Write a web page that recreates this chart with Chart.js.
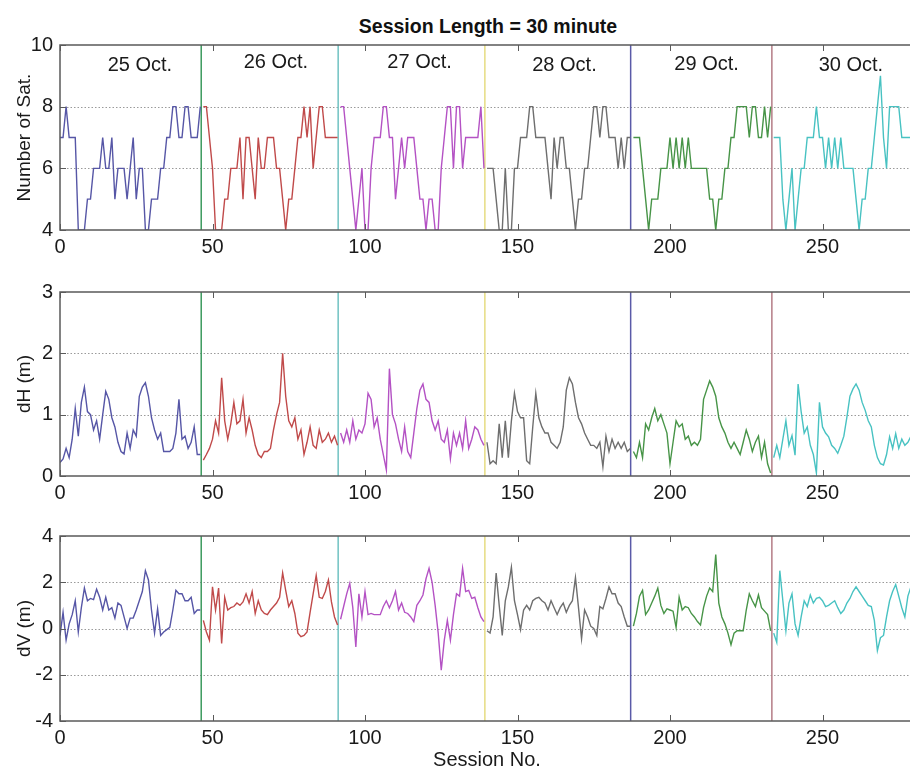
<!DOCTYPE html>
<html>
<head>
<meta charset="UTF-8">
<title>Session Length = 30 minute</title>
<script src="https://cdn.jsdelivr.net/npm/chart.js"></script>
<style>
  html, body { margin: 0; padding: 0; background: #fff; overflow: hidden; }
  #wrap { position: relative; width: 910px; height: 772px; overflow: hidden; }
  #wrap canvas { position: absolute; left: 0; }
  #title {
    position: absolute; left: 238px; top: 15px; width: 500px; text-align: center;
    font: bold 19.5px "Liberation Sans", Arial, sans-serif; color: #111;
  }
</style>
</head>
<body>
<div id="wrap">
  <div id="title">Session Length = 30 minute</div>
  <canvas id="satChart" width="930" height="260" style="top:0px"></canvas>
  <canvas id="dhChart" width="930" height="240" style="top:260px"></canvas>
  <canvas id="dvChart" width="930" height="272" style="top:500px"></canvas>
</div>
<script>
// days and where each one starts (session number)
const days = ['25 Oct.', '26 Oct.', '27 Oct.', '28 Oct.', '29 Oct.', '30 Oct.'];
const dayStart = [0, 47, 92, 140, 188, 234];
const dayBoundary = [46.3, 91.2, 139.3, 187.1, 233.4];
const dayLabelAt = [26.2, 70.8, 117.9, 165.4, 212, 259.3];
const dayLabelY = [9.32, 9.43, 9.42, 9.35, 9.38, 9.35];
const xTicks = [0, 50, 100, 150, 200, 250];

const dayColor = ['#5656a6', '#c04a4a', '#b452c4', '#6e6e6e', '#479447', '#48c2c2'];
const boundaryColor = ['#3c9a5e', '#70c2c2', '#e6dc82', '#5a5aa8', '#b47c86'];

// number of satellites per session
const satCount = [
  7,7,8,7,7,7,4,4,4,5, 5,6,6,6,7,6,6,7,5,6, 6,6,5,6,7,5,6,6,4,4, 5,5,5,6,6,7,7,8,8,7, 7,8,8,7,7,7,8,
  8,8,7,6,4,4,4,5,5,6, 6,6,7,5,7,7,6,5,7,6, 6,7,7,7,6,6,5,4,5,5, 6,7,7,8,7,8,6,7,8,8, 7,7,7,7,7,
  8,8,7,6,5,4,5,6,4,4, 6,7,7,7,8,8,7,7,5,6, 7,6,7,7,7,6,5,5,4,5, 5,4,4,6,7,8,8,6,8,8, 6,7,7,7,7,7,8,6,
  6,6,6,5,4,4,6,4,4,6, 6,7,7,7,8,8,7,7,7,7, 6,5,7,6,7,7,6,6,5,4, 5,5,6,6,7,8,8,7,8,8, 7,7,7,6,7,6,7,7,
  7,7,7,6,5,4,5,5,5,6, 6,6,7,6,7,6,7,6,7,6, 6,6,6,6,6,5,5,4,5,5, 6,6,7,7,8,8,8,8,7,8, 8,7,7,8,7,8,
  7,7,7,5,4,5,6,4,5,6, 6,7,7,7,8,7,7,6,7,6, 7,6,7,6,6,6,6,5,4,5, 5,6,6,7,8,9,7,6,8,8, 8,8,7,7,7,7,7
];

// horizontal error dH (m)
const dH = [
  0.22,0.28,0.45,0.3,0.6,1.1,0.65,1.2,1.45,1.05, 1.0,0.75,0.9,0.6,1.0,1.38,1.25,0.95,0.8,0.55,
  0.4,0.36,0.7,0.45,0.75,0.65,1.3,1.45,1.52,1.3, 0.95,0.75,0.6,0.7,0.4,0.4,0.4,0.45,0.7,1.25,
  0.6,0.65,0.45,0.55,0.8,0.35,0.35,
  0.26,0.35,0.45,0.6,0.9,0.7,1.6,0.9,0.6,0.85, 1.2,0.85,0.9,1.25,0.7,0.95,0.75,0.5,
  0.35,0.3,0.4,0.4,0.45,0.75,1.0,1.2,2.0,1.3, 0.9,0.8,0.95,0.6,0.75,0.35,0.55,0.8,0.5,0.45,
  0.75,0.55,0.6,0.7,0.55,0.65,0.5,
  0.7,0.55,0.75,0.55,0.9,0.6,0.75,0.7,0.85,1.35, 1.25,0.8,0.95,0.6,0.35,0.1,1.75,1.0,0.85,0.6,
  0.4,0.8,0.4,0.3,0.7,1.1,1.4,1.5,1.25,1.2, 0.9,0.75,0.9,0.6,0.55,0.75,0.28,0.7,0.5,0.7,
  0.45,0.9,0.45,0.6,0.8,0.75,0.6,0.5,
  0.55,0.2,0.25,0.2,0.85,0.3,0.9,0.3,0.9,1.35, 1.05,0.95,0.95,0.25,0.2,0.8,1.35,0.95,0.8,0.7,
  0.7,0.55,0.5,0.45,0.55,0.8,1.4,1.6,1.5,1.2, 0.95,0.85,0.7,0.6,0.5,0.5,0.45,0.55,0.15,0.65,
  0.4,0.6,0.45,0.55,0.45,0.55,0.4,0.45,
  0.4,0.3,0.55,0.3,0.85,0.75,0.95,1.1,0.9,1.0, 0.85,0.7,0.2,0.55,0.9,0.8,0.85,0.6,0.65,0.5,
  0.55,0.5,0.6,1.25,1.4,1.55,1.45,1.3,0.95,0.8, 0.7,0.55,0.45,0.55,0.45,0.35,0.55,0.75,0.6,0.4,
  0.55,0.65,0.3,0.55,0.2,0.05,
  0.3,0.5,0.3,0.6,0.9,0.5,0.66,0.34,1.5,1.05, 0.7,0.8,0.5,0.35,0.05,1.2,0.8,0.7,0.64,0.5,
  0.45,0.37,0.5,0.65,0.96,1.3,1.42,1.5,1.4,1.2, 1.07,0.9,0.8,0.5,0.3,0.2,0.18,0.35,0.64,0.45,
  0.69,0.45,0.6,0.5,0.55,0.65,0.6
];

// vertical error dV (m)
const dV = [
  -0.3,0.7,-0.5,0.2,0.6,1.2,-0.15,0.9,1.75,1.2, 1.3,1.25,1.7,1.35,0.8,1.35,0.8,0.9,0.45,1.1,
  1.0,0.5,0.0,0.45,0.45,0.8,1.2,1.6,2.5,2.1, 0.8,-0.2,0.85,-0.3,-0.15,-0.05,0.05,0.8,1.65,1.5,
  1.5,1.2,1.2,1.35,0.65,0.8,0.8,
  0.35,-0.15,-0.5,1.8,0.8,1.75,-0.65,1.35,0.8,0.9, 0.95,1.1,1.0,1.15,1.5,1.1,1.6,0.65,1.2,0.8,
  0.65,0.6,0.8,0.95,1.1,1.35,2.4,1.65,0.95,1.2, 0.65,-0.2,-0.35,-0.3,-0.15,0.7,1.5,2.3,1.35,1.3,
  1.6,2.1,1.15,0.5,0.15,
  0.4,0.95,1.5,1.95,0.9,-0.8,1.5,0.5,1.6,0.6, 0.65,0.6,0.6,0.6,0.95,1.2,0.9,1.2,1.6,0.8,
  1.1,0.7,0.65,0.5,0.3,1.0,1.2,1.45,2.15,2.6, 2.0,1.0,-0.2,-1.8,-0.5,0.35,-0.5,0.6,1.5,1.4,
  2.6,1.6,1.65,1.3,1.35,0.9,0.5,0.3,
  -0.1,-0.2,0.5,2.4,1.0,-0.3,1.2,1.8,2.65,1.2, 0.6,-0.05,0.8,1.0,0.8,1.2,1.3,1.35,1.2,1.1,
  0.8,1.2,0.9,0.6,0.9,1.1,0.7,1.0,1.2,2.2, 0.9,-0.45,0.8,0.5,0.1,0.0,-0.3,0.95,0.85,1.3,
  1.8,1.5,1.5,1.1,0.95,0.5,0.1,0.1,
  0.1,0.65,1.4,1.65,0.6,0.8,1.1,1.4,1.75,1.0, 0.65,0.85,0.8,0.75,0.05,1.35,0.8,0.95,0.9,0.65,
  0.5,0.3,0.15,0.9,1.4,1.75,1.6,3.2,1.1,0.5, 0.2,-0.2,-0.7,-0.2,-0.1,-0.1,-0.1,0.8,1.5,1.2,
  0.95,1.45,0.9,0.75,0.6,-0.1,
  -0.2,-0.6,2.5,1.2,-0.1,1.1,1.5,0.2,-0.3,0.5, 1.2,0.95,1.45,1.1,1.3,1.35,1.2,0.95,1.0,1.1,
  1.2,0.9,0.65,0.8,1.1,1.3,1.6,1.8,1.6,1.4, 1.2,1.0,0.95,0.35,-0.95,-0.4,-0.3,0.5,1.2,1.6,
  1.9,1.4,0.9,0.5,1.4,1.8,1.6
];

const FONT = '"Liberation Sans", Arial, sans-serif';

// split a series into one line per day
function daySets(values) {
  return dayStart.map((s, d) => {
    const e = d + 1 < dayStart.length ? dayStart[d + 1] : values.length;
    return {
      data: values.slice(s, e).map((v, i) => ({ x: s + i, y: v })),
      borderColor: dayColor[d],
      borderWidth: 1.4,
      pointRadius: 0,
      tension: 0
    };
  });
}

// dotted grid, box, inward ticks, day separators and day names
const framePlugin = {
  id: 'frame',
  beforeDatasetsDraw(chart) {
    const { ctx, chartArea: a, scales: { x, y } } = chart;
    ctx.save();
    ctx.strokeStyle = '#9a9a9a';
    ctx.lineWidth = 1;
    ctx.setLineDash([1.5, 2]);
    ctx.beginPath();
    y.ticks.slice(1, -1).forEach(t => {
      const py = Math.round(y.getPixelForValue(t.value)) + 0.5;
      ctx.moveTo(a.left, py); ctx.lineTo(a.right, py);
    });
    ctx.stroke();
    ctx.setLineDash([]);
    ctx.lineWidth = 1.5;
    dayBoundary.forEach((b, i) => {
      const px = x.getPixelForValue(b);
      ctx.strokeStyle = boundaryColor[i];
      ctx.beginPath();
      ctx.moveTo(px, a.top);
      ctx.lineTo(px, a.bottom);
      ctx.stroke();
    });
    ctx.restore();
  },
  afterDatasetsDraw(chart, args, opts) {
    const { ctx, chartArea: a, scales: { x, y } } = chart;
    ctx.save();
    ctx.strokeStyle = '#5a5a5a';
    ctx.lineWidth = 1.5;
    ctx.strokeRect(a.left, a.top, a.right - a.left, a.bottom - a.top);
    ctx.lineWidth = 1;
    ctx.beginPath();
    x.ticks.forEach(t => {
      const px = Math.round(x.getPixelForValue(t.value)) + 0.5;
      ctx.moveTo(px, a.bottom); ctx.lineTo(px, a.bottom - 6);
      ctx.moveTo(px, a.top); ctx.lineTo(px, a.top + 6);
    });
    y.ticks.forEach(t => {
      const py = Math.round(y.getPixelForValue(t.value)) + 0.5;
      ctx.moveTo(a.left, py); ctx.lineTo(a.left + 6, py);
    });
    ctx.stroke();
    if (opts.labels) {
      ctx.fillStyle = '#1a1a1a';
      ctx.font = '20px ' + FONT;
      ctx.textAlign = 'center';
      ctx.textBaseline = 'middle';
      days.forEach((d, i) => {
        ctx.fillText(d, x.getPixelForValue(dayLabelAt[i]), y.getPixelForValue(dayLabelY[i]));
      });
    }
    ctx.restore();
  }
};

function makeChart(id, values, cfg) {
  return new Chart(document.getElementById(id), {
    type: 'line',
    data: { datasets: daySets(values) },
    plugins: [framePlugin],
    options: {
      responsive: false,
      animation: false,
      devicePixelRatio: 1,
      layout: { padding: { top: cfg.padTop, right: 16, left: 0, bottom: 0 } },
      plugins: {
        legend: { display: false },
        tooltip: { enabled: false },
        frame: { labels: !!cfg.labels }
      },
      scales: {
        x: {
          type: 'linear',
          min: 0,
          max: 280,
          afterBuildTicks: s => { s.ticks = xTicks.map(v => ({ value: v })); },
          afterFit: s => { s.height = cfg.xHeight; },
          ticks: { font: { size: 20, family: FONT }, color: '#1a1a1a', padding: 5, maxRotation: 0 },
          grid: { display: false, drawTicks: false },
          border: { display: false },
          title: {
            display: !!cfg.xTitle,
            text: cfg.xTitle || '',
            font: { size: 20, family: FONT },
            color: '#1a1a1a',
            padding: { top: 0, bottom: 0 }
          }
        },
        y: {
          min: cfg.yTicks[0],
          max: cfg.yTicks[cfg.yTicks.length - 1],
          afterBuildTicks: s => { s.ticks = cfg.yTicks.map(v => ({ value: v })); },
          afterFit: s => { s.width = 60; },
          ticks: { font: { size: 20, family: FONT }, color: '#1a1a1a', padding: 7 },
          grid: { display: false, drawTicks: false },
          border: { display: false },
          title: {
            display: true,
            text: cfg.yTitle,
            font: { size: 19, family: FONT },
            color: '#1a1a1a',
            padding: { top: 13, bottom: 0 }
          }
        }
      }
    }
  });
}

makeChart('satChart', satCount, {
  padTop: 45, xHeight: 30, yTicks: [4, 6, 8, 10], yTitle: 'Number of Sat.', labels: true
});
makeChart('dhChart', dH, {
  padTop: 32, xHeight: 24, yTicks: [0, 1, 2, 3], yTitle: 'dH (m)'
});
makeChart('dvChart', dV, {
  padTop: 36, xHeight: 51, yTicks: [-4, -2, 0, 2, 4], yTitle: 'dV (m)', xTitle: 'Session No.'
});
</script>
</body>
</html>
